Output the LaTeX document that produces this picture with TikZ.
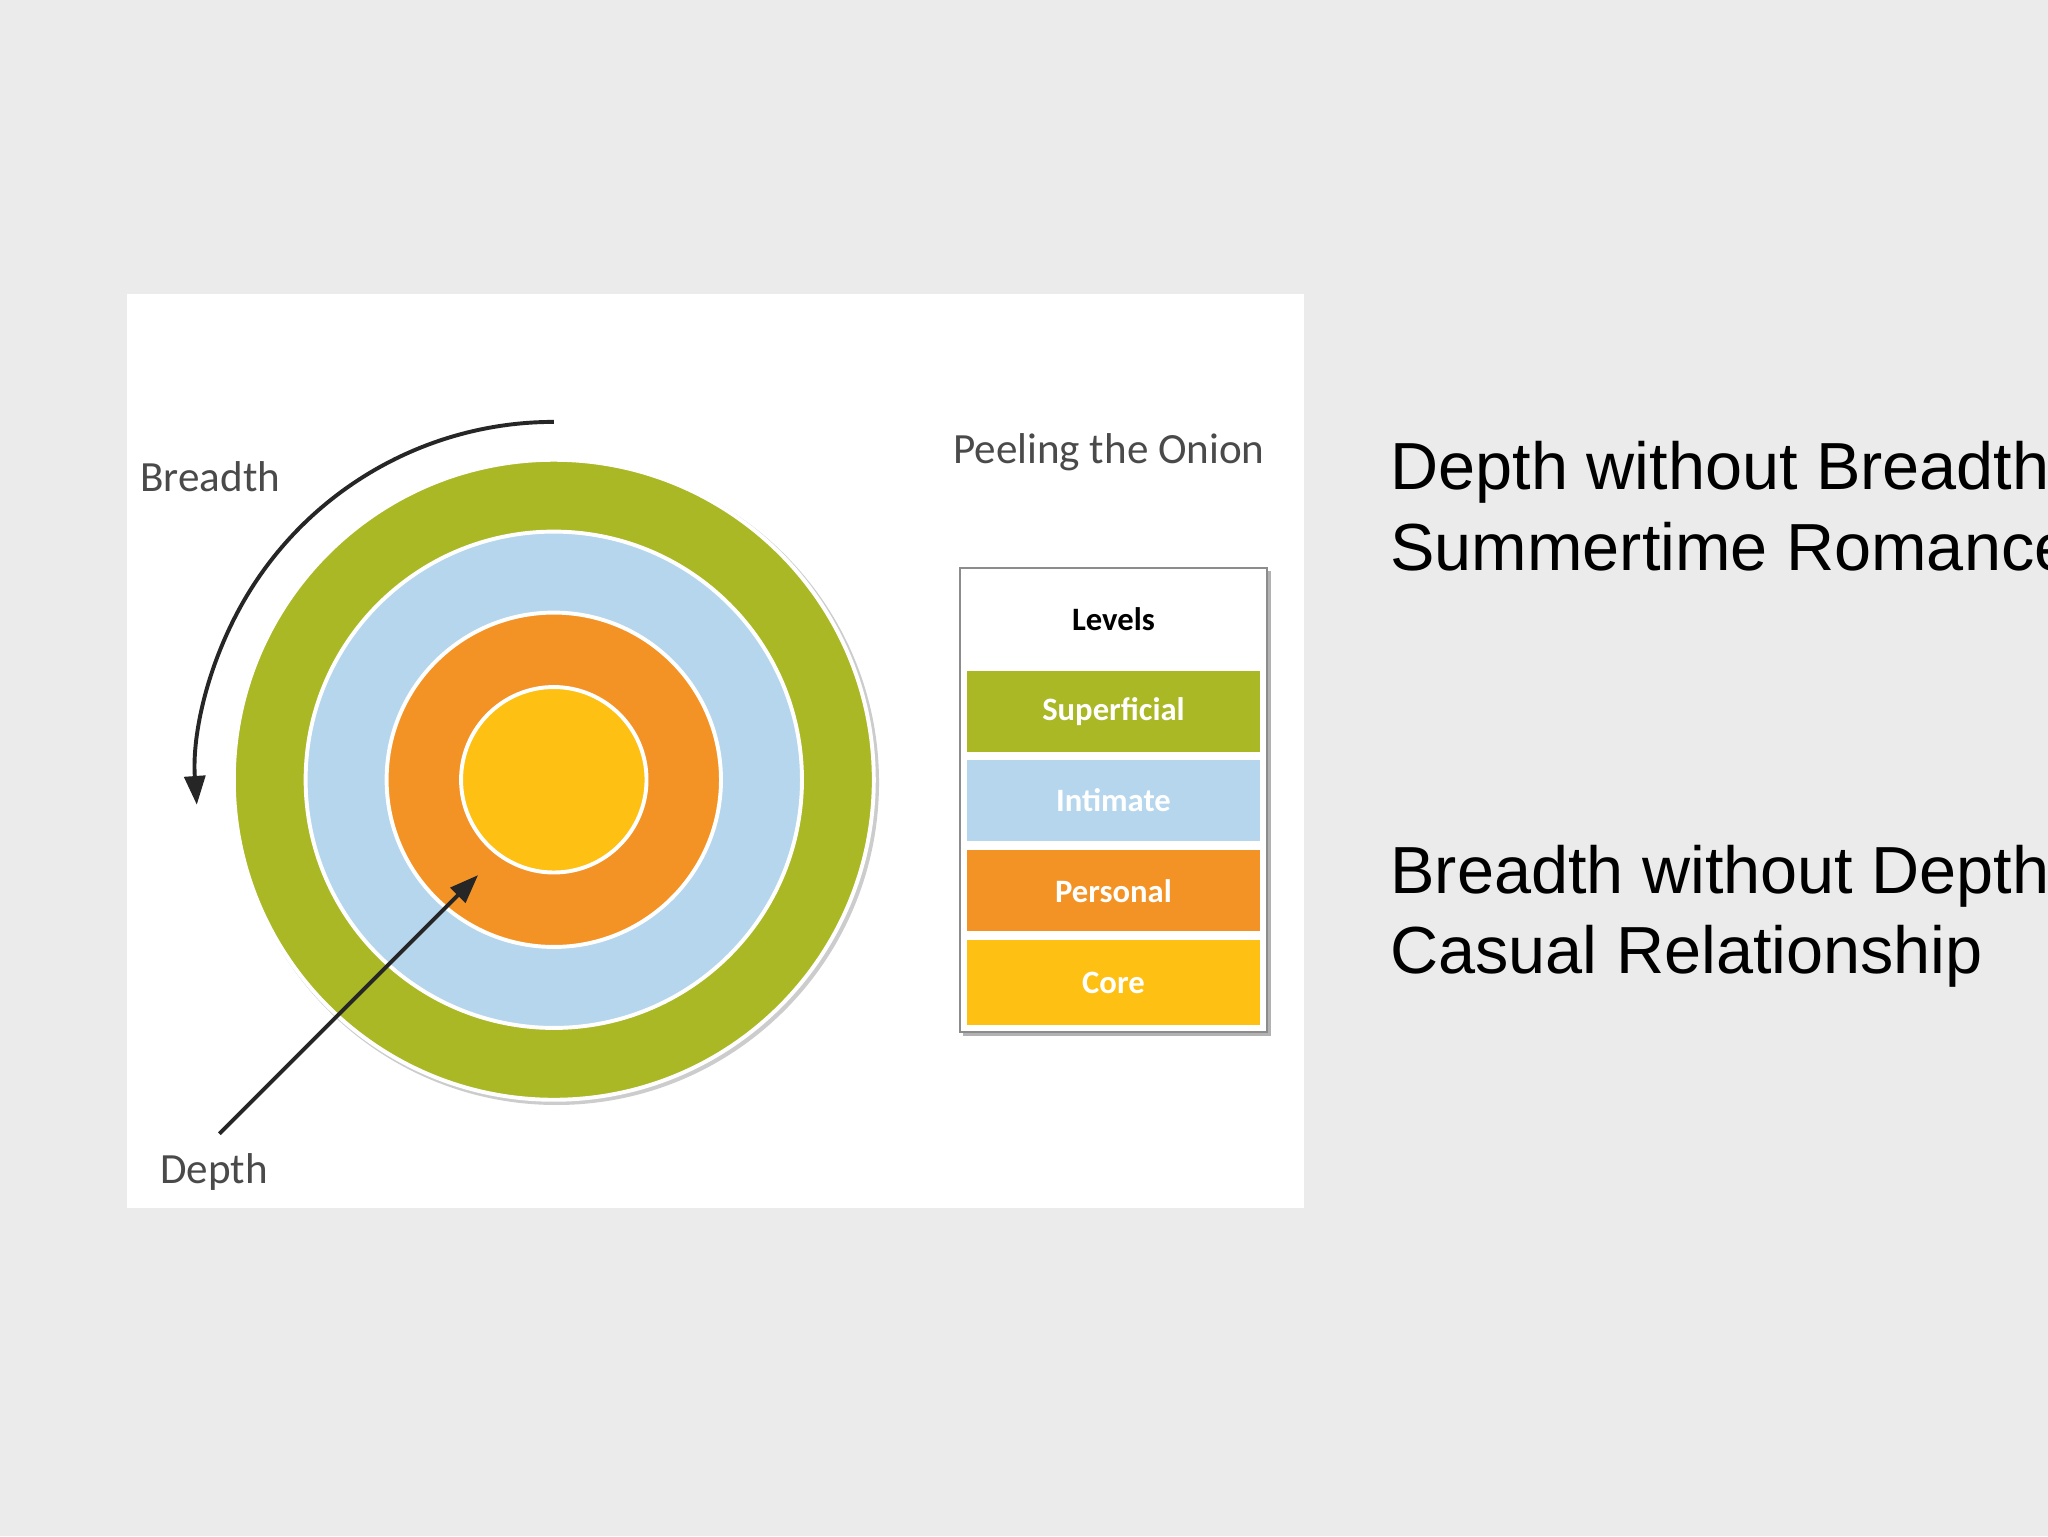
\documentclass[tikz,border=0pt]{standalone}
\usepackage{fontspec}
\setmainfont{Carlito}
\newfontfamily\arialf{Liberation Sans}
\usetikzlibrary{arrows.meta}
\definecolor{bggray}{HTML}{EBEBEB}
\definecolor{ogreen}{HTML}{A9B824}
\definecolor{oblue}{HTML}{B5D6EC}
\definecolor{oorange}{HTML}{F39325}
\definecolor{oyellow}{HTML}{FDC013}
\definecolor{lbltext}{HTML}{4A4A4A}
\tikzset{
  ring/.style={draw=white,line width=3pt},
  lbl/.style={text=lbltext,font=\fontsize{33}{36}\selectfont},
  rowbox/.style={minimum width=225pt,minimum height=62pt,inner sep=0pt,font=\bfseries\fontsize{25}{28}\selectfont,text=white},
  side/.style={anchor=base west,font=\arialf\fontsize{51}{55}\selectfont,text=black},
  arr/.style={line width=3pt,draw=black!85,-{Triangle[length=22pt,width=16pt]}}
}
\begin{document}
\begin{tikzpicture}[x=1pt,y=-1pt]
\clip (0,0) rectangle (1568,1176);
\fill[bggray] (0,0) rectangle (1568,1176);
\fill[white] (97,225) rectangle (998,925);
% onion
\coordinate (c) at (424,597);
\fill[black!20] (426,599) circle (247);
\filldraw[ring,fill=ogreen] (c) circle (245);
\filldraw[ring,fill=oblue] (c) circle (190);
\filldraw[ring,fill=oorange] (c) circle (128);
\filldraw[ring,fill=oyellow] (c) circle (71);
% breadth arrow
\coordinate (bs) at (424,323);
\draw[arr] (bs) arc[start angle=-90,end angle=-184,radius=274] coordinate (be);
\node[lbl] (breadth) at (161,365) {Breadth};
% depth arrow
\coordinate (ds) at (168,868);
\coordinate (de) at (366,670);
\draw[arr] (ds) -- (de);
\node[lbl] (depth) at (164,897) {Depth};
\node[lbl] (title) at (849,346) {Peeling the Onion};
% legend
\fill[black!30] (737,437) rectangle (973,793);
\filldraw[draw=black!45,line width=1.5pt,fill=white] (735,435) rectangle (970,790);
\node[rowbox,text=black,minimum height=66pt] (lv) at (852.5,474) {Levels};
\node[rowbox,fill=ogreen] (sp) at (852.5,544.5) {Superficial};
\node[rowbox,fill=oblue] (im) at (852.5,612.5) {Intimate};
\node[rowbox,fill=oorange] (pe) at (852.5,682) {Personal};
\node[rowbox,fill=oyellow,minimum height=65pt] (co) at (852.5,752.5) {Core};
% side text
\node[side] (t1) at (1061,375) {Depth without Breadth};
\node[side] (t2) at (1061,437) {Summertime Romance};
\node[side] (t3) at (1061,684) {Breadth without Depth};
\node[side] (t4) at (1061,745) {Casual Relationship};
\end{tikzpicture}
\end{document}
